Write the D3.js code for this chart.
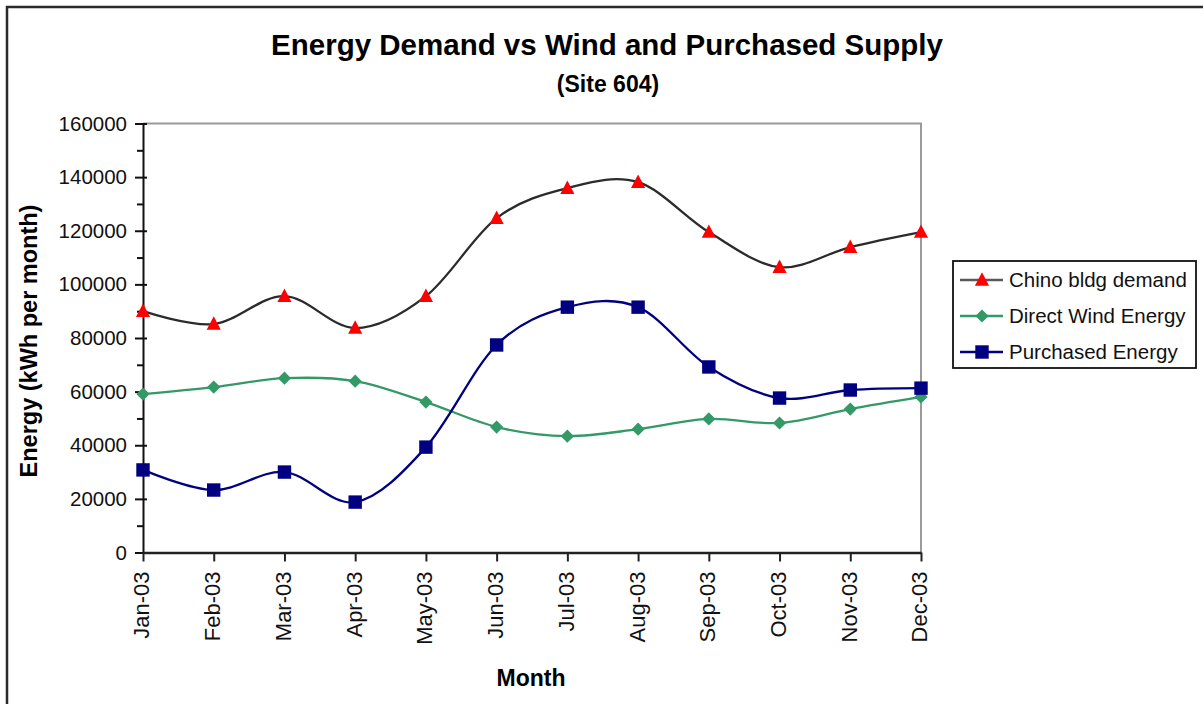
<!DOCTYPE html>
<html>
<head>
<meta charset="utf-8">
<script src="https://cdn.jsdelivr.net/npm/d3@7"></script>
<style>
  html, body { margin: 0; padding: 0; background: #fff; }
  svg { display: block; font-family: "Liberation Sans", Arial, sans-serif; }
</style>
</head>
<body>
<svg id="chart" width="1203" height="704"></svg>
<script>
const months = ["Jan-03","Feb-03","Mar-03","Apr-03","May-03","Jun-03","Jul-03","Aug-03","Sep-03","Oct-03","Nov-03","Dec-03"];
const chinoDemand = [90000, 85200, 95600, 83700, 95600, 124700, 135900, 138100, 119500, 106400, 113900, 119500];
const windEnergy = [59100, 61700, 65000, 63900, 56100, 46800, 43400, 46000, 49800, 48300, 53500, 58000];
const purchasedEnergy = [30800, 23300, 30000, 18800, 39300, 77400, 91500, 91500, 69200, 57600, 60600, 61300];
const yTicks = [0, 20000, 40000, 60000, 80000, 100000, 120000, 140000, 160000];
const yMinorTicks = [10000, 30000, 50000, 70000, 90000, 110000, 130000, 150000];
const seriesNames = ["Chino bldg demand", "Direct Wind Energy", "Purchased Energy"];

(function () {
const svg = d3.select("#chart");
const W = 1203, H = 704;
const pLeft = 143, pRight = 921, pTop = 123.5, pBottom = 552.5;

svg.append("rect").attr("width", W).attr("height", H).attr("fill", "#fff");
// outer chart border (only top and left visible in the crop)
svg.append("rect").attr("x", 7).attr("y", 7).attr("width", 1400).attr("height", 900)
  .attr("fill", "none").attr("stroke", "#2a2a2a").attr("stroke-width", 2.5);

const x = d3.scalePoint().domain(months).range([pLeft, pRight]).padding(0);
const y = d3.scaleLinear().domain([0, 160000]).range([pBottom, pTop]);

// plot area border (top & right gray)
svg.append("path")
  .attr("d", `M${pLeft},${pTop}H${pRight}V${pBottom}`)
  .attr("fill", "none").attr("stroke", "#9a9a9a").attr("stroke-width", 2);

// Titles
svg.append("text").attr("x", 607).attr("y", 55).attr("text-anchor", "middle")
  .attr("font-size", 29.5).attr("font-weight", "bold").attr("fill", "#000")
  .text("Energy Demand vs Wind and Purchased Supply");
svg.append("text").attr("x", 608).attr("y", 92).attr("text-anchor", "middle")
  .attr("font-size", 23).attr("font-weight", "bold").attr("fill", "#000")
  .text("(Site 604)");

// Y axis
const yAxisG = svg.append("g").attr("transform", `translate(${pLeft},0)`)
  .call(d3.axisLeft(y).tickValues(yTicks).tickFormat(d3.format("d")).tickSizeInner(8).tickSizeOuter(0).tickPadding(8));
yAxisG.select(".domain").attr("stroke", "#111").attr("stroke-width", 2);
yAxisG.selectAll(".tick line").attr("stroke", "#111").attr("stroke-width", 2).attr("x2", -8);
yAxisG.selectAll(".tick").append("line").attr("x1", 0).attr("x2", 4).attr("stroke", "#111").attr("stroke-width", 2);
yAxisG.selectAll(".tick text").attr("font-size", 20.5).attr("fill", "#111")
  .attr("font-family", "Liberation Sans, Arial, sans-serif");
const yMinorG = svg.append("g").attr("transform", `translate(${pLeft},0)`)
  .call(d3.axisLeft(y).tickValues(yMinorTicks).tickFormat("").tickSizeInner(6).tickSizeOuter(0));
yMinorG.select(".domain").remove();
yMinorG.selectAll(".tick line").attr("stroke", "#111").attr("stroke-width", 2);

// X axis
const xAxisG = svg.append("g").attr("transform", `translate(0,${pBottom})`)
  .call(d3.axisBottom(x).tickSizeInner(9).tickSizeOuter(0));
xAxisG.select(".domain").attr("stroke", "#222").attr("stroke-width", 2.5);
xAxisG.selectAll(".tick line").attr("stroke", "#222").attr("stroke-width", 2);
xAxisG.selectAll(".tick text")
  .attr("font-size", 22).attr("fill", "#111")
  .attr("font-family", "Liberation Sans, Arial, sans-serif")
  .attr("transform", "rotate(-90)")
  .attr("text-anchor", "end")
  .attr("x", -19).attr("y", 0).attr("dy", "0.27em");

// Axis titles
svg.append("text").attr("transform", "translate(37,341) rotate(-90)").attr("text-anchor", "middle")
  .attr("font-size", 23.5).attr("font-weight", "bold").attr("fill", "#000")
  .text("Energy (kWh per month)");
svg.append("text").attr("x", 531).attr("y", 686).attr("text-anchor", "middle")
  .attr("font-size", 23).attr("font-weight", "bold").attr("fill", "#000")
  .text("Month");

// marker shapes
const triangle = { draw(ctx, size) { const s = Math.sqrt(size); ctx.moveTo(0, -s*0.6); ctx.lineTo(s*0.55, s*0.45); ctx.lineTo(-s*0.55, s*0.45); ctx.closePath(); } };
const diamond = { draw(ctx, size) { const s = Math.sqrt(size)/2; ctx.moveTo(0, -s); ctx.lineTo(s, 0); ctx.lineTo(0, s); ctx.lineTo(-s, 0); ctx.closePath(); } };
const square = { draw(ctx, size) { const s = Math.sqrt(size)/2; ctx.rect(-s, -s, 2*s, 2*s); } };

const series = [
  { name: seriesNames[0], values: chinoDemand, line: "#2b2b2b", legendLine: "#5a5a5a", marker: "#ff0000", sym: triangle, size: 165 },
  { name: seriesNames[1], values: windEnergy, line: "#339966", legendLine: "#339966", marker: "#339966", sym: diamond, size: 175 },
  { name: seriesNames[2], values: purchasedEnergy, line: "#000080", legendLine: "#000080", marker: "#000080", sym: square, size: 180 }
];

const line = d3.line().x((d, i) => x(months[i])).y(d => y(d)).curve(d3.curveCardinal.tension(0));

series.forEach(s => {
  svg.append("path").datum(s.values).attr("d", line)
    .attr("fill", "none").attr("stroke", s.line).attr("stroke-width", 2.3)
    .attr("stroke-linejoin", "round");
});
series.forEach(s => {
  svg.append("g").selectAll("path").data(s.values).join("path")
    .attr("transform", (d, i) => `translate(${x(months[i])},${y(d)})`)
    .attr("d", d3.symbol().type(s.sym).size(s.size))
    .attr("fill", s.marker);
});

// Legend
const lg = svg.append("g");
lg.append("rect").attr("x", 953).attr("y", 261).attr("width", 243).attr("height", 107)
  .attr("fill", "#fff").attr("stroke", "#111").attr("stroke-width", 1.8);
series.forEach((s, i) => {
  const cy = 280 + i * 36;
  lg.append("line").attr("x1", 960).attr("x2", 1003).attr("y1", cy).attr("y2", cy)
    .attr("stroke", s.legendLine).attr("stroke-width", 2.3);
  lg.append("path").attr("transform", `translate(982,${cy})`)
    .attr("d", d3.symbol().type(s.sym).size(s.size)).attr("fill", s.marker);
  lg.append("text").attr("x", 1009).attr("y", cy).attr("dy", "0.35em")
    .attr("font-size", 20.5).attr("fill", "#111").text(s.name);
});
})();
</script>
</body>
</html>
